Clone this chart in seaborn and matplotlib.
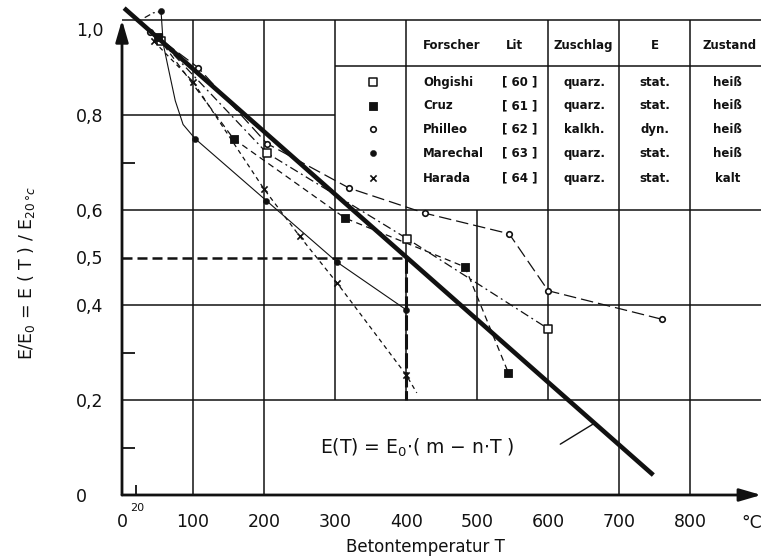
import matplotlib
matplotlib.use("Agg")
import numpy as np
import pandas as pd
import seaborn as sns
import matplotlib.pyplot as plt
from matplotlib.transforms import ScaledTranslation

# ---------------- data ----------------
x_ticks = [0, 100, 200, 300, 400, 500, 600, 700, 800]
x_ticklabels = ["0", "100", "200", "300", "400", "500", "600", "700", "800"]
y_ticks = [0, 0.2, 0.4, 0.5, 0.6, 0.8, 1.0]
y_ticklabels = ["0", "0,2", "0,4", "0,5", "0,6", "0,8", "1,0"]
x_minor = [20, 300, 400, 500, 600]
y_minor = [0.1, 0.3, 0.7]

ohgishi_T = [55, 204, 401, 600]
ohgishi_v = [0.955, 0.72, 0.54, 0.35]

cruz_T = [50, 157, 314, 483, 544]
cruz_v = [0.965, 0.75, 0.583, 0.48, 0.257]

philleo_T = [40, 107, 204, 320, 427, 545, 600, 760]
philleo_v = [0.975, 0.90, 0.74, 0.646, 0.593, 0.55, 0.43, 0.37]

marechal_start_T = [32, 44, 55]
marechal_start_v = [1.005, 1.015, 1.018]
marechal_curve_T = [55, 58, 65, 75, 86, 103, 203, 303, 400]
marechal_curve_v = [1.018, 0.95, 0.90, 0.83, 0.78, 0.75, 0.62, 0.49, 0.39]
marechal_T = [55, 103, 203, 303, 400]
marechal_v = [1.018, 0.75, 0.62, 0.49, 0.39]

harada_line_T = [45, 100, 200, 250, 303, 400, 415]
harada_line_v = [0.955, 0.87, 0.644, 0.545, 0.446, 0.253, 0.215]
harada_T = [45, 100, 200, 250, 303, 400]
harada_v = [0.955, 0.87, 0.644, 0.545, 0.446, 0.253]

fit_T = [3, 748]
fit_v = [1.025, 0.042]

ref_h_T = [0, 400]
ref_h_v = [0.5, 0.5]
ref_v_T = [400, 400]
ref_v_v = [0.5, 0.2]

pointer_T = [617, 665]
pointer_v = [0.107, 0.151]

forscher = ["Ohgishi", "Cruz", "Philleo", "Marechal", "Harada"]
lit = ["[ 60 ]", "[ 61 ]", "[ 62 ]", "[ 63 ]", "[ 64 ]"]
zuschlag = ["quarz.", "quarz.", "kalkh.", "quarz.", "quarz."]
e_art = ["stat.", "stat.", "dyn.", "stat.", "stat."]
zustand = ["heiß", "heiß", "heiß", "heiß", "kalt"]
headers = ["Forscher", "Lit", "Zuschlag", "E", "Zustand"]
row_v = [0.869, 0.819, 0.77, 0.72, 0.667]

# ---------------- style ----------------
sns.set_theme(style="white")
plt.rcParams["font.family"] = ["DejaVu Sans"]
K = "#111111"

fig = plt.figure(figsize=(7.62, 5.6), dpi=100)
ax = fig.add_axes([122 / 762, 65 / 560, 640 / 762, 494 / 560])
ax.set_xlim(0, 901)
ax.set_ylim(0, 1.04)
for s in ax.spines.values():
    s.set_visible(False)
ax.set_facecolor("white")

# grid / table lines
hsegs = [(1.0, 0, 900), (0.8, 0, 300), (0.6, 0, 900), (0.4, 0, 900),
         (0.2, 0, 900), (0.903, 300, 900)]
vsegs = [(100, 0, 1.0), (200, 0, 1.0), (300, 0.2, 1.0), (400, 0.2, 1.0),
         (500, 0.2, 0.6), (600, 0.2, 1.0), (700, 0, 1.0), (800, 0, 1.0)]
for y, a, b in hsegs:
    ax.hlines(y, a, b, color=K, lw=1.1, zorder=1)
for x, a, b in vsegs:
    ax.vlines(x, a, b, color=K, lw=1.1, zorder=1)

# reference dashed lines (0.5 at 400 °C)
sns.lineplot(x=ref_h_T, y=ref_h_v, ax=ax, color=K, lw=1.8, sort=False,
             estimator=None, zorder=2)
ax.lines[-1].set_dashes((4, 2))
sns.lineplot(x=ref_v_T, y=ref_v_v, ax=ax, color=K, lw=2.2, sort=False,
             estimator=None, zorder=2)
ax.lines[-1].set_dashes((5, 1.2))

def series_line(T, v, dashes=None, lw=0.9):
    sns.lineplot(x=T, y=v, ax=ax, color=K, lw=lw, sort=False, estimator=None,
                 zorder=2)
    if dashes is not None:
        ax.lines[-1].set_dashes(dashes)

series_line(ohgishi_T, ohgishi_v, (7, 3, 1.5, 3))
series_line(cruz_T, cruz_v, (5, 3.5))
series_line(philleo_T, philleo_v, (10, 4))
series_line(marechal_start_T, marechal_start_v, (5, 2.5, 1.5, 2.5))
series_line(marechal_curve_T, marechal_curve_v, None, 0.8)
series_line(harada_line_T, harada_line_v, (3.5, 3))

# markers
def open_marker(T, v, m, s, lw):
    sns.scatterplot(x=T, y=v, marker=m, s=s, facecolor="white", edgecolor=K,
                    linewidth=lw, ax=ax, zorder=4, legend=False)

def filled_marker(T, v, m, s, lw):
    sns.scatterplot(x=T, y=v, marker=m, s=s, color=K, edgecolor=K,
                    linewidth=lw, ax=ax, zorder=4, legend=False)

open_marker(ohgishi_T, ohgishi_v, "s", 26, 1.1)
filled_marker(cruz_T, cruz_v, "s", 30, 0.6)
open_marker(philleo_T, philleo_v, "o", 16, 1.2)
filled_marker(marechal_T, marechal_v, "o", 20, 0.3)
sns.scatterplot(x=harada_T, y=harada_v, marker="x", s=20, color=K,
                linewidth=1.2, ax=ax, zorder=4, legend=False)

# linear law
sns.lineplot(x=fit_T, y=fit_v, ax=ax, color=K, lw=3.3, sort=False,
             estimator=None, zorder=5)
ax.lines[-1].set_solid_capstyle("butt")
sns.lineplot(x=pointer_T, y=pointer_v, ax=ax, color=K, lw=1.0, sort=False,
             estimator=None, zorder=5)
ax.text(415, 0.10, r"E(T) = E$_0$$\cdot$( m $-$ n$\cdot$T )", fontsize=13.5,
        ha="center", va="center", color=K, zorder=6)

# axes with arrows
for xy in [(0, 1.0), (900, 0)]:
    ax.annotate("", xy=xy, xytext=(0, 0),
                arrowprops=dict(arrowstyle="-|>,head_width=0.32,head_length=1.1",
                                lw=2.0, color=K, shrinkA=0, shrinkB=0),
                annotation_clip=False, zorder=6)

# ticks
ax.set_xticks(x_ticks)
ax.set_xticklabels(x_ticklabels, fontsize=12.5, color=K)
ax.set_xticks(x_minor, minor=True)
ax.set_yticks(y_ticks)
ax.set_yticklabels(y_ticklabels, fontsize=12.5, color=K)
ax.set_yticks(y_minor, minor=True)
ax.tick_params(axis="x", which="major", length=0, pad=13, bottom=True)
ax.tick_params(axis="y", which="major", length=0, pad=33, left=True)
ax.tick_params(axis="x", which="minor", direction="in", length=7, width=1.3,
               bottom=True, color=K)
ax.tick_params(axis="y", which="minor", direction="in", length=9, width=1.3,
               left=True, color=K)
for lbl in ax.get_yticklabels():
    lbl.set_horizontalalignment("left")
top_lbl = ax.yaxis.get_major_ticks()[-1].label1
top_lbl.set_transform(top_lbl.get_transform()
                      + ScaledTranslation(0, -9 / 100, fig.dpi_scale_trans))

ax.text(22, -0.027, "20", fontsize=8, ha="center", va="center", color=K,
        clip_on=False)
ax.text(887, -0.058, "°C", fontsize=12.5, ha="center", va="center", color=K,
        clip_on=False)

# axis titles
fig.text(425 / 762, (560 - 547) / 560, "Betontemperatur T", fontsize=12,
         ha="center", va="center", color=K)
fig.text(27 / 762, (560 - 273) / 560,
         r"E/E$_0$ = E ( T ) / E$_{20\,°c}$", fontsize=12.5, rotation=90,
         ha="center", va="center", color=K)

# table (legend)
tfs = 8.5
hv = 0.947
ax.text(424, hv, headers[0], fontsize=tfs, fontweight="bold", ha="left", va="center", color=K)
ax.text(553, hv, headers[1], fontsize=tfs, fontweight="bold", ha="center", va="center", color=K)
ax.text(650, hv, headers[2], fontsize=tfs, fontweight="bold", ha="center", va="center", color=K)
ax.text(750, hv, headers[3], fontsize=tfs, fontweight="bold", ha="center", va="center", color=K)
ax.text(855, hv, headers[4], fontsize=tfs, fontweight="bold", ha="center", va="center", color=K)
for i, yv in enumerate(row_v):
    ax.text(424, yv, forscher[i], fontsize=tfs, fontweight="bold", ha="left", va="center", color=K)
    ax.text(560, yv, lit[i], fontsize=tfs, fontweight="bold", ha="center", va="center", color=K)
    ax.text(651, yv, zuschlag[i], fontsize=tfs, fontweight="bold", ha="center", va="center", color=K)
    ax.text(750, yv, e_art[i], fontsize=tfs, fontweight="bold", ha="center", va="center", color=K)
    ax.text(852, yv, zustand[i], fontsize=tfs, fontweight="bold", ha="center", va="center", color=K)

leg_T = 353
open_marker([leg_T], [row_v[0]], "s", 26, 1.1)
filled_marker([leg_T], [row_v[1]], "s", 30, 0.6)
open_marker([leg_T], [row_v[2]], "o", 16, 1.2)
filled_marker([leg_T], [row_v[3]], "o", 20, 0.3)
sns.scatterplot(x=[leg_T], y=[row_v[4]], marker="x", s=20, color=K,
                linewidth=1.2, ax=ax, zorder=4, legend=False)

ax.set_xlabel("")
ax.set_ylabel("")
fig.savefig("out.png", dpi=100, facecolor="white")
